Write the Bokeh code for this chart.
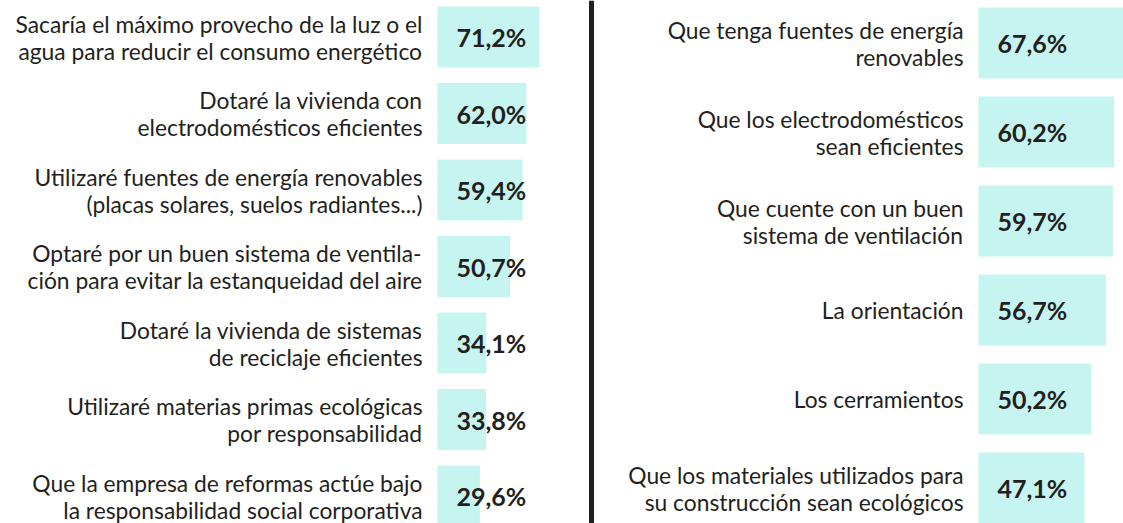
from bokeh.plotting import figure
from bokeh.models import ColumnDataSource, Range1d, Span
from bokeh.layouts import row
from bokeh.core.properties import value
from bokeh.embed import file_html
from bokeh.resources import INLINE

# ---- data ----
left_labels = [
    "Sacaría el máximo provecho de la luz o el\nagua para reducir el consumo energético",
    "Dotaré la vivienda con\nelectrodomésticos eficientes",
    "Utilizaré fuentes de energía renovables\n(placas solares, suelos radiantes...)",
    "Optaré por un buen sistema de ventila-\nción para evitar la estanqueidad del aire",
    "Dotaré la vivienda de sistemas\nde reciclaje eficientes",
    "Utilizaré materias primas ecológicas\npor responsabilidad",
    "Que la empresa de reformas actúe bajo\nla responsabilidad social corporativa",
]
left_values = [71.2, 62.0, 59.4, 50.7, 34.1, 33.8, 29.6]

right_labels = [
    "Que tenga fuentes de energía\nrenovables",
    "Que los electrodomésticos\nsean eficientes",
    "Que cuente con un buen\nsistema de ventilación",
    "La orientación",
    "Los cerramientos",
    "Que los materiales utilizados para\nsu construcción sean ecológicos",
]
right_values = [67.6, 60.2, 59.7, 56.7, 50.2, 47.1]

BAR = "#c6f5f1"
INK = "#231f20"
LABEL_FONT = "Lato"
VALUE_FONT = "Lato"


def fmt(v):
    return f"{v:.1f}%".replace(".", ",")


def panel(labels, values, width, height, bar_start_px, px_per_unit,
          first_center_px, step_px, bar_h_px, divider=None):
    n = len(values)
    idx = list(range(n))
    x_start = -bar_start_px / px_per_unit
    x_end = (width - bar_start_px) / px_per_unit
    y_top = -first_center_px / step_px
    y_bot = (height - first_center_px) / step_px
    p = figure(width=width, height=height, output_backend="svg",
               toolbar_location=None, x_range=Range1d(x_start, x_end),
               y_range=Range1d(y_bot, y_top), min_border=0,
               x_axis_location=None, y_axis_location=None,
               outline_line_color=None, background_fill_color="white",
               border_fill_color="white")
    p.grid.visible = False

    bars = ColumnDataSource(dict(y=idx, v=values, t=[fmt(v) for v in values],
                                 zero=[0] * n))
    p.hbar(y="y", left="zero", right="v", height=bar_h_px / step_px,
           source=bars, fill_color=BAR, line_color=None)
    p.text(x="zero", y="y", text="t", source=bars, x_offset=19,
           text_align="left", text_baseline="middle",
           text_font=value(VALUE_FONT), text_font_style="bold",
           text_font_size="25px", text_color=INK)

    ly, lt, lo, lz = [], [], [], []
    line_h = 27
    for i, lab in enumerate(labels):
        parts = lab.split("\n")
        k = len(parts)
        for j, part in enumerate(parts):
            ly.append(i)
            lt.append(part)
            lo.append((j - (k - 1) / 2) * line_h)
            lz.append(0)
    lsrc = ColumnDataSource(dict(y=ly, t=lt, o=lo, zero=lz))
    p.text(x="zero", y="y", text="t", y_offset="o", source=lsrc, x_offset=-15,
           text_align="right", text_baseline="middle",
           text_font=value(LABEL_FONT), text_font_size="22.8px", text_color=INK)

    if divider is not None:
        p.add_layout(Span(location=(divider - bar_start_px) / px_per_unit,
                          dimension="height", line_color=INK, line_width=5))
    return p


W1, W2, H = 596, 527, 523
p1 = panel(left_labels, left_values, W1, H, 437, 1.433, 36.5, 76.5, 61,
           divider=591)
p2 = panel(right_labels, right_values, W2, H, 382, 2.25, 42.5, 89, 71)

layout = row(p1, p2, spacing=0)
open("out.html", "w").write(file_html(layout, INLINE))
